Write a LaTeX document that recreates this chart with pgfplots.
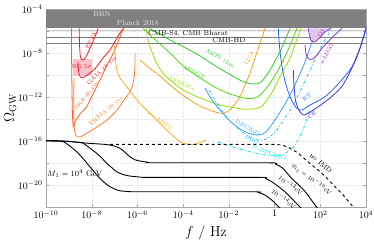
\documentclass[border=0pt]{standalone}
\usepackage{pgfplots}
\pgfplotsset{compat=1.18}
\definecolor{cEPTA}{RGB}{240,30,40}
\definecolor{cNG}{RGB}{248,195,205}
\definecolor{cSKA}{RGB}{255,95,40}
\definecolor{cTHEIA}{RGB}{255,125,50}
\definecolor{cMU}{RGB}{255,175,30}
\definecolor{cLISA}{RGB}{255,160,30}
\definecolor{cAION}{RGB}{40,210,40}
\definecolor{cAEDGE}{RGB}{80,220,20}
\definecolor{cAEDGEp}{RGB}{150,225,0}
\definecolor{cDEC}{RGB}{50,160,255}
\definecolor{cBBO}{RGB}{40,190,240}
\definecolor{cUDEC}{RGB}{0,230,235}
\definecolor{cET}{RGB}{40,100,255}
\definecolor{cCE}{RGB}{60,50,220}
\definecolor{cLIGO}{RGB}{140,50,200}
\definecolor{cLIGOf}{RGB}{225,200,235}
\definecolor{cband}{RGB}{128,128,128}
\newcommand\lab{\fontsize{5.6}{6.5}\selectfont}
\begin{document}
\begin{tikzpicture}
\path[use as bounding box] (-46bp,-38bp) rectangle (328bp,207bp);
\begin{loglogaxis}[
  scale only axis, width=320bp, height=197.5bp,
  xmin=1e-10, xmax=1e4, ymin=1e-22, ymax=1e-4,
  xtick={1e-10,1e-8,1e-6,1e-4,1e-2,1,1e2,1e4},
  xticklabels={$10^{-10}$,$10^{-8}$,$10^{-6}$,$10^{-4}$,$10^{-2}$,$1$,$10^{2}$,$10^{4}$},
  ytick={1e-22,1e-20,1e-18,1e-16,1e-14,1e-12,1e-10,1e-8,1e-6,1e-4},
  yticklabels={{},$10^{-20}$,{},$10^{-16}$,{},$10^{-12}$,{},$10^{-8}$,{},$10^{-4}$},
  xminorticks=false, yminorticks=false,
  grid=major, major grid style={densely dotted, gray!18},
  axis line style={gray!70}, tick style={gray!70},
  tick align=inside, major tick length=3bp,
  xlabel={$f$ / Hz}, ylabel={$\Omega_{\rm GW}$},
  label style={font=\Large},
  xlabel style={at={(axis description cs:0.5,-0.129)}, anchor=center},
  ylabel style={at={(axis description cs:-0.112,0.5)}, anchor=center},
]
% BBN / Planck band
\addplot[draw=none, fill=cband] coordinates {(1e-10,1e-4) (1e4,1e-4) (1e4,1.93e-6) (1e-10,1.93e-6)};
% CMB lines
\addplot[gray!45, line width=0.5pt] coordinates {(1e-10,1.17e-6) (1e4,1.17e-6)};
\addplot[gray, line width=0.6pt] coordinates {(1e-10,2.92e-7) (1e4,2.92e-7)};
\addplot[gray, line width=0.6pt] coordinates {(1e-10,8.3e-8) (1e4,8.3e-8)};
% NG 5 sigma
\addplot[draw=none, fill=cNG] coordinates {(1.48e-9,2.88e-9) (1e-8,2.88e-9) (1e-8,8.7e-11) (1.48e-9,8.7e-11)};
% SKA
\addplot[cSKA, line width=0.8pt, smooth, tension=0.3] coordinates {(1.30e-9,1.93e-6) (1.32e-9,2.49e-9) (1.37e-9,4.58e-12) (1.44e-9,2.41e-14) (1.56e-9,2.07e-15) (1.86e-9,5.9e-15) (3.07e-9,2.98e-14) (6.0e-9,1.38e-13) (1.14e-8,2.0e-12) (2.30e-8,3.7e-11) (4.2e-8,5.8e-10) (8.8e-8,1.02e-8) (1.41e-7,1.09e-7) (2.41e-7,1.93e-6)};
% GAIA
\addplot[cEPTA, line width=0.8pt, smooth, tension=0.4] coordinates {(2.51e-9,1.64e-9) (2.78e-9,1.32e-10) (3.76e-9,5.7e-11) (8.4e-9,1.63e-10) (1.65e-8,6.1e-10) (3.11e-8,3.8e-9) (6.3e-8,2.04e-8) (1.15e-7,1.66e-7) (1.73e-7,7.2e-7) (2.58e-7,1.93e-6)};
% EPTA
\addplot[cEPTA, line width=0.8pt, smooth, tension=0.4] coordinates {(2.86e-9,1.93e-6) (2.89e-9,1.66e-7) (3.01e-9,2.03e-8) (3.23e-9,4.68e-9) (3.76e-9,2.49e-9) (4.6e-9,2.77e-9) (6.2e-9,7.1e-9) (9.3e-9,4.71e-8) (1.26e-8,2.05e-7) (1.70e-8,9.5e-7) (1.88e-8,1.93e-6)};
% THEIA
\addplot[cTHEIA, line width=0.8pt, smooth, tension=0.5] coordinates {(7.8e-7,1.08e-8) (7.8e-7,8.7e-10) (7.1e-7,5.7e-11) (5.2e-7,4.58e-12) (2.58e-7,5.6e-13) (1.28e-7,6.9e-14) (4.66e-8,8.5e-15) (1.70e-8,1.95e-15) (6.2e-9,5.5e-16) (3.07e-9,2.38e-16) (2.05e-9,3.27e-16) (1.77e-9,1.04e-15) (1.64e-9,2.41e-14) (1.63e-9,5.6e-13) (1.68e-9,5.7e-11)};
% mu-ARES
\addplot[cMU, line width=0.8pt, smooth, tension=0.5] coordinates {(9.9e-8,4.71e-8) (1.06e-7,7.1e-9) (1.15e-7,8.7e-10) (1.34e-7,2.01e-10) (1.73e-7,5.7e-11) (3.39e-7,9.2e-12) (6.4e-7,1.61e-12) (1.29e-6,2.81e-13) (4.9e-6,1.69e-14) (1.91e-5,1.04e-15) (7.3e-5,8.9e-17) (1.47e-4,5.5e-17) (2.78e-4,4.9e-17) (5.5e-4,7.5e-17) (1e-3,1.27e-16)};
% LISA
\addplot[cLISA, line width=0.8pt, smooth, tension=0.5] coordinates {(1.29e-6,2.49e-9) (3.54e-6,4.36e-10) (9.7e-6,8.7e-11) (2.65e-5,1.31e-11) (7.3e-5,2.44e-12) (1.99e-4,5.6e-13) (5.5e-4,1.6e-13) (1.49e-3,6.9e-14) (3.02e-3,4.08e-14) (5.7e-3,3.45e-14) (1.12e-2,6.9e-14) (1.85e-2,2.43e-13) (3.06e-2,1.12e-12) (5.1e-2,1.31e-11) (8.4e-2,1.53e-10) (0.139,3.79e-9) (0.23,8.3e-8) (0.38,1.93e-6)};
% AION 1km
\addplot[cAION, line width=0.8pt, smooth, tension=0.5] coordinates {(3.2e-6,1.93e-6) (5.9e-6,9.9e-7) (9.7e-6,5.85e-7) (2.65e-5,1.66e-7) (1.01e-4,4.06e-8) (5.5e-4,5.8e-9) (2.93e-3,6.1e-10) (1.12e-2,1.19e-10) (4.27e-2,2.62e-11) (0.117,1.61e-11) (0.23,2.12e-11) (0.38,6.3e-11) (0.63,3.05e-10) (1.04,2.02e-9) (1.72,1.42e-8) (2.85,1.49e-7) (4.72,1.93e-6)};
% AEDGE
\addplot[cAEDGE, line width=0.8pt, smooth, tension=0.5] coordinates {(1.75e-6,1.93e-6) (3.54e-6,4.73e-7) (9.7e-6,7.2e-8) (2.65e-5,1.08e-8) (1.01e-4,7.1e-10) (5.5e-4,5.7e-11) (2.93e-3,6.97e-12) (1.12e-2,1.98e-12) (6.0e-2,8.0e-13) (0.165,9.9e-13) (0.31,3.01e-12) (0.63,1.87e-11) (1.72,6.1e-10) (3.85,2.03e-8) (6.4,2.52e-7) (9.5,1.93e-6)};
% AEDGE+
\addplot[cAEDGEp, line width=0.8pt, smooth, tension=0.5] coordinates {(2.54e-6,1.93e-6) (2.75e-6,2.52e-7) (3.54e-6,4.06e-8) (6.97e-6,1.24e-9) (1.31e-5,1.63e-10) (2.65e-5,3.7e-11) (1.01e-4,4.58e-12) (5.5e-4,8.6e-13) (2.93e-3,2.43e-13) (1.12e-2,1.29e-13) (6.0e-2,8.0e-14) (0.23,1.21e-13) (0.46,5.6e-13) (0.88,4.58e-12) (1.72,7.5e-11) (4.72,3.79e-9) (8.6,1.09e-7) (14.3,1.93e-6)};
% DECIGO
\addplot[cDEC, line width=0.8pt, smooth, tension=0.5] coordinates {(9.0e-4,6.97e-12) (1.83e-3,5.6e-13) (4.09e-3,6.9e-14) (1.12e-2,6.9e-15) (3.06e-2,1.28e-15) (8.4e-2,4.97e-16) (0.188,3.63e-16) (0.42,6.8e-16) (1.04,8.5e-15) (2.85,2.43e-13) (7.8,1.31e-11) (21.4,1.64e-9) (43.3,1.09e-7) (71.6,1.93e-6)};
% BBO
\addplot[cBBO, line width=0.8pt, dash dot, smooth, tension=0.5] coordinates {(1.35e-3,4.58e-12) (3.34e-3,1.97e-13) (9.1e-3,1.12e-14) (3.06e-2,1.04e-15) (8.4e-2,2.38e-16) (0.188,1.27e-16) (0.42,1.57e-16) (1.04,6.8e-16) (2.85,1.29e-14) (9.5,8.6e-13) (35.4,3.05e-10) (119,5.8e-8) (324,1.93e-6)};
% U-DECIGO
\addplot[cUDEC, line width=0.8pt, dash dot, smooth, tension=0.5] coordinates {(3.34e-3,8.4e-17) (1.12e-2,3.61e-17) (6.2e-2,1.26e-17) (0.38,5.5e-18) (1.72,4.9e-18) (4.72,1.56e-17) (9.5,8.4e-17) (15.8,6.8e-16) (23.6,5.6e-15) (35.4,6.9e-14)};
% ET
\addplot[cET, line width=0.8pt, smooth, tension=0.5] coordinates {(1.45,1.93e-6) (1.56,1.66e-7) (1.81,7.1e-9) (2.33,2.01e-10) (3.48,6.97e-12) (5.8,4.56e-13) (9.5,9.4e-14) (15.8,6.9e-14) (35.4,1.97e-13) (160,1.12e-12) (726,2.46e-11) (2430,6.1e-10) (5450,3.09e-8) (1e4,1.35e-6) (1.35e4,7.2e-6)};
% CE
\addplot[cCE, line width=0.8pt, smooth, tension=0.5] coordinates {(6.6,3.05e-10) (7.1,1.31e-11) (8.2,5.6e-13) (11.7,6.9e-14) (18,2.41e-14) (35.4,4.53e-14) (81.7,1.38e-13) (265,8.6e-13) (863,9.2e-12) (1990,2.01e-10) (4590,1.02e-8) (8150,4.73e-7) (1.22e4,1.1e-5)};
% LIGO region and curves
\addplot[draw=none, fill=cLIGOf] coordinates {(32,1.93e-6) (37.2,3.84e-7) (47.9,1.21e-7) (64.7,1.49e-7) (107,3.84e-7) (177,9.9e-7) (265,1.93e-6)};
\addplot[cLIGO, line width=0.8pt, smooth, tension=0.5] coordinates {(29.8,1.93e-6) (33.7,4.73e-7) (39.2,1.66e-7) (47.9,1.09e-7) (64.7,1.34e-7) (96.8,2.8e-7) (160,8.9e-7) (294,1.93e-6)};
\addplot[cLIGO, line width=0.8pt, smooth, tension=0.5] coordinates {(21.4,5.8e-8) (23.2,1.34e-8) (26.1,4.98e-9) (35.4,2.77e-9) (47.9,3.08e-9) (81.7,1.02e-8) (131,3.82e-8) (223,1.16e-7) (359,3.46e-7) (520,6.8e-7) (891,1.93e-6)};
% GW spectra
\addplot[black, line width=0.9pt, dashed] coordinates {(6.3e-8,5.1e-17) (1e-4,5.1e-17) (1,5.1e-17) (2.04,4.5e-17) (3.98,2.8e-17) (7.1,1.41e-17) (11,7.8e-18) (31.6,1.12e-18) (81,2.34e-19) (200,4e-20) (437,7.1e-21) (1000,1.26e-21) (2344,1.5e-22) (5012,3.16e-23)};
\addplot[black, line width=0.9pt, smooth, tension=0.4] coordinates {(1e-10,1.1e-16) (3.16e-10,1.05e-16) (8.1e-10,9.8e-17) (2.5e-9,7.9e-17) (7.9e-9,6.3e-17) (2.3e-8,5.5e-17) (5.0e-8,4.8e-17) (1e-7,3.55e-17) (1.74e-7,2.24e-17) (2.8e-7,1e-17) (4.7e-7,3.8e-18) (7.9e-7,2.0e-18) (1.29e-6,1.55e-18) (3.16e-6,1.17e-18) (6.9e-6,1.07e-18) (0.54,1.07e-18) (1.12,7.9e-19) (2.24,3.55e-19) (5.6,4.1e-20) (20,3.16e-21) (69,1e-22) (158,2e-23)};
\addplot[black, line width=0.9pt, smooth, tension=0.4] coordinates {(1e-10,1.1e-16) (3.16e-10,1.05e-16) (1e-9,9.5e-17) (2.5e-9,7.9e-17) (4.2e-9,6.6e-17) (7.9e-9,2.5e-17) (1.66e-8,7.8e-18) (2.8e-8,2.8e-18) (4.57e-8,9.5e-19) (7.9e-8,3.55e-19) (1.23e-7,1.62e-19) (2.5e-7,8.9e-20) (4.7e-7,6.6e-20) (1.26e-6,5.4e-20) (3.55e-6,5.0e-20) (0.195,5.0e-20) (0.4,4.0e-20) (0.89,1.58e-20) (2.85,2.45e-21) (12.9,1e-22) (31.6,1.6e-23)};
\addplot[black, line width=0.9pt, smooth, tension=0.4] coordinates {(1e-10,1.1e-16) (3.16e-10,1.05e-16) (5.75e-10,8.9e-17) (1.12e-9,3.55e-17) (2.19e-9,1.1e-17) (4.47e-9,2.24e-18) (8.3e-9,4.7e-19) (1.41e-8,1.26e-19) (2.29e-8,4.07e-20) (3.98e-8,1.41e-20) (6.3e-8,7.1e-21) (1.12e-7,3.98e-21) (1.74e-7,3.0e-21) (5.0e-7,2.5e-21) (1.29e-6,2.45e-21) (0.1,2.45e-21) (0.2,2.1e-21) (0.38,1.23e-21) (0.79,4e-22) (1.45,1.12e-22) (3.98,1.6e-23)};
% labels
\node[font=\fontsize{7.5}{8}\selectfont, text=gray!20] at (axis cs:2.8e-8,3.9e-5) {BBN};
\node[font=\fontsize{7.5}{8}\selectfont, text=gray!20] at (axis cs:1.05e-6,5.9e-6) {Planck 2018};
\node[font=\fontsize{7}{8}\selectfont, anchor=west, inner sep=0pt] at (axis cs:2.9e-6,6.5e-7) {CMB-S4, CMB Bharat};
\node[font=\fontsize{7}{8}\selectfont, inner sep=0pt] at (axis cs:1.01e-2,1.58e-7) {CMB-HD};
\node[font=\lab, text=cEPTA, rotate=62, inner sep=0.5pt] at (axis cs:9.3e-9,1.66e-7) {EPTA};
\node[font=\lab, text=cEPTA, inner sep=0.5pt] at (axis cs:3.65e-9,6.1e-10) {NG 5$\sigma$};
\node[font=\lab, text=cEPTA, rotate=44, inner sep=0.5pt] at (axis cs:2.8e-8,2.6e-10) {GAIA 20 yrs};
\node[font=\lab, text=cSKA, rotate=51, inner sep=0.5pt] at (axis cs:6.0e-9,1.3e-12) {SKA 20 yrs};
\node[font=\lab, text=cTHEIA, rotate=40, inner sep=0.5pt] at (axis cs:4.2e-8,5.0e-14) {THEIA 20 yrs};
\node[font=\lab, text=cMU, rotate=-37, inner sep=0.5pt] at (axis cs:9.7e-6,6.9e-15) {$\mu-$ARES};
\node[font=\lab, text=cLISA, rotate=65, inner sep=0.5pt] at (axis cs:7.6e-2,3.8e-9) {LISA};
\node[font=\lab, text=cAION, rotate=-30, inner sep=0.5pt] at (axis cs:4.09e-3,3.8e-9) {AION 1km};
\node[font=\lab, text=cAEDGE, rotate=-27, inner sep=0.5pt] at (axis cs:2.98e-4,2.0e-10) {AEDGE};
\node[font=\lab, text=cAEDGEp, rotate=-25, inner sep=0.5pt] at (axis cs:8.9e-5,1.62e-11) {AEDGE+};
\node[font=\lab, text=cDEC, rotate=-30, inner sep=0.5pt] at (axis cs:6.9e-2,1.58e-15) {DECIGO};
\node[font=\lab, text=cBBO, rotate=-25, inner sep=0.5pt] at (axis cs:0.103,1.41e-16) {BBO};
\node[font=\lab, text=cUDEC, rotate=-20, inner sep=0.5pt] at (axis cs:0.6,8.3e-18) {U-DECIGO};
\node[font=\lab, text=cET, rotate=35, inner sep=0.5pt] at (axis cs:26.1,1.06e-12) {ET};
\node[font=\lab, text=cCE, rotate=40, inner sep=0.5pt] at (axis cs:43.3,2.41e-14) {CE};
\node[font=\lab, text=cLIGO, rotate=62, inner sep=0.5pt] at (axis cs:190,9.0e-9) {a-LIGO};
\node[font=\lab, text=cLIGO, rotate=60, inner sep=0.5pt] at (axis cs:107,7.2e-7) {O3};
\node[font=\fontsize{7}{8}\selectfont, rotate=-40, inner sep=0.5pt] at (axis cs:107,1.02e-18) {no IMD};
\node[font=\fontsize{6.5}{7}\selectfont, rotate=-37, inner sep=0.5pt] at (axis cs:41.7,3.55e-20) {$\tilde m_1=10^{-10}$eV};
\node[font=\fontsize{6.5}{7}\selectfont, rotate=-37, inner sep=0.5pt] at (axis cs:5.2,1e-20) {$10^{-12}$eV};
\node[font=\fontsize{6.5}{7}\selectfont, rotate=-37, inner sep=0.5pt] at (axis cs:2.57,5.4e-22) {$10^{-14}$eV};
\node[font=\fontsize{8}{9}\selectfont, anchor=west, inner sep=0.5pt] at (axis cs:1.05e-10,1.17e-19) {$M_1=10^4$ GeV};
\end{loglogaxis}
\end{tikzpicture}
\end{document}
